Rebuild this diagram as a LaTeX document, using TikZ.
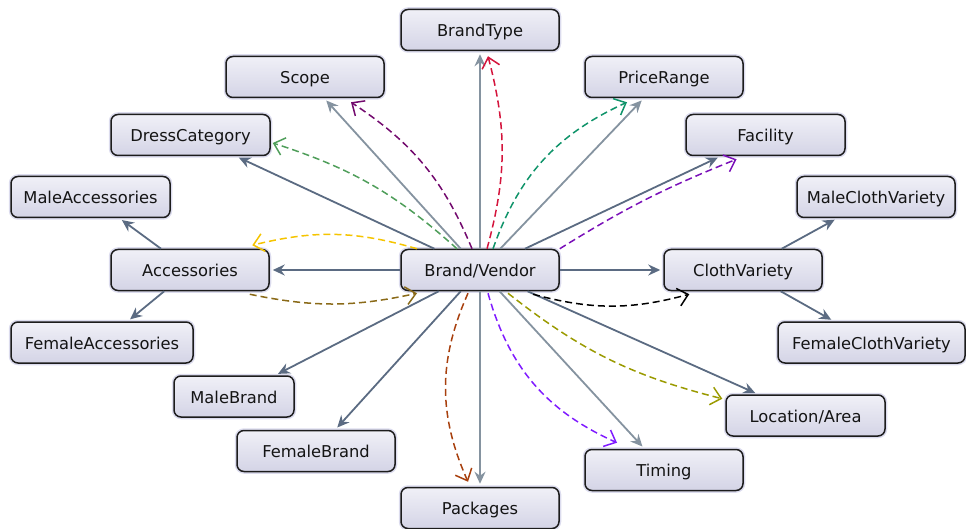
\documentclass[tikz,border=0pt]{standalone}
\usepackage{fontspec}
\setmainfont{DejaVu Sans}
\usetikzlibrary{arrows.meta}

\definecolor{boxline}{HTML}{1C1C1C}
\definecolor{boxtop}{HTML}{F0F0F7}
\definecolor{boxmid}{HTML}{E2E2EE}
\definecolor{boxbot}{HTML}{D4D4E6}
\definecolor{boxhalo}{HTML}{DCDCEE}
\definecolor{linkdark}{HTML}{5B6B82}
\definecolor{linklight}{HTML}{8593A0}
\definecolor{relred}{HTML}{D4143C}
\definecolor{relplum}{HTML}{730A6E}
\definecolor{relsage}{HTML}{4F9E5A}
\definecolor{relteal}{HTML}{10946A}
\definecolor{relviolet}{HTML}{7A10B8}
\definecolor{relgold}{HTML}{F5C400}
\definecolor{relbronze}{HTML}{8A6A18}
\definecolor{relolive}{HTML}{9A9A00}
\definecolor{relblue}{HTML}{7F1AFF}
\definecolor{relrust}{HTML}{A8400E}

\begin{document}
\begin{tikzpicture}[x=1pt,y=-1pt,
  concept/.style={draw=boxline, line width=1.5pt, rounded corners=7pt,
    top color=boxtop, middle color=boxmid, bottom color=boxbot,
    preaction={draw=boxhalo, line width=4.5pt},
    minimum height=41pt, minimum width=158pt, inner sep=0pt,
    text height=13pt, text depth=0pt, text=black!92,
    font=\fontsize{16.3}{18}\selectfont},
  isa/.style={-{Stealth[length=12pt,width=11pt,inset=4pt]}, line width=1.8pt,
    draw=linkdark, shorten >=3pt},
  isalight/.style={isa, draw=linklight},
  rel/.style={-{Straight Barb[length=10pt,width=18pt]}, line width=1.5pt,
    dash pattern=on 7pt off 4pt},
]
\useasboundingbox (0,0) rectangle (966,529);

% concepts
\node[concept] (bt)  at (480,30)     {BrandType};
\node[concept] (sc)  at (305,77)     {Scope};
\node[concept] (pr)  at (664,77)     {PriceRange};
\node[concept, minimum width=159pt] (dc)  at (190.5,135) {DressCategory};
\node[concept, minimum width=159pt] (fa)  at (765.5,135) {Facility};
\node[concept, minimum width=159pt] (ma)  at (90.5,197)  {MaleAccessories};
\node[concept] (mcv) at (876,197)    {MaleClothVariety};
\node[concept] (acc) at (190,270)    {Accessories};
\node[concept] (bv)  at (480,270)    {Brand/Vendor};
\node[concept] (cv)  at (743,270)    {ClothVariety};
\node[concept, minimum width=182pt] (fac) at (102,342.5)  {FemaleAccessories};
\node[concept, minimum width=187pt] (fcv) at (871.5,342.5){FemaleClothVariety};
\node[concept, minimum width=120pt] (mb)  at (234,396.5)  {MaleBrand};
\node[concept, minimum width=159pt] (loc) at (805.5,415.5){Location/Area};
\node[concept] (fb)  at (316,451)    {FemaleBrand};
\node[concept] (tm)  at (664,470)    {Timing};
\node[concept] (pk)  at (480,508)    {Packages};

% subclass links
\draw[isalight] (bv) -- (bt);
\draw[isalight] (bv) -- (sc);
\draw[isa]      (bv) -- (dc);
\draw[isalight] (bv) -- (pr);
\draw[isa]      (bv) -- (fa);
\draw[isa]      (bv) -- (acc);
\draw[isa]      (bv) -- (cv);
\draw[isa]      (bv) -- (mb);
\draw[isa]      (bv) -- (fb);
\draw[isalight] (bv) -- (pk);
\draw[isalight] (bv) -- (tm);
\draw[isa]      (bv) -- (loc);
\draw[isa]      (acc) -- (ma);
\draw[isa]      (acc) -- (fac);
\draw[isa]      (cv) -- (mcv);
\draw[isa]      (cv) -- (fcv);

% object property links
\draw[rel, relred]    ([xshift=7pt]bv.north)  to[bend right=15] ([xshift=8pt,yshift=-5pt]bt.south);
\draw[rel, relplum]   ([xshift=-8pt]bv.north) to[bend right=17] ([xshift=46pt,yshift=-4pt]sc.south);
\draw[rel, relsage]   ([xshift=-23pt]bv.north) to[bend right=12] ([xshift=2pt,yshift=-8pt]dc.east);
\draw[rel, relteal]   ([xshift=13pt]bv.north) to[bend left=23] ([xshift=-37pt,yshift=-4pt]pr.south);
\draw[rel, relviolet] (bv.north east) to[bend left=5] ([xshift=-29pt,yshift=-3pt]fa.south);
\draw[rel, relgold]   ([xshift=-63pt]bv.north) to[bend right=15] ([xshift=-17.5pt,yshift=3.5pt]acc.north east);
\draw[rel, relbronze] ([xshift=-20pt,yshift=-3pt]acc.south east) to[bend right=12] ([xshift=-63pt,yshift=-2pt]bv.south);
\draw[rel, black]     ([xshift=53pt,yshift=-3pt]bv.south) to[bend right=15] ([xshift=26pt,yshift=-3pt]cv.south west);
\draw[rel, relolive]  ([xshift=28pt,yshift=-2pt]bv.south) to[bend right=12] ([xshift=-3pt,yshift=-4.5pt]loc.north west);
\draw[rel, relblue]   ([xshift=8pt,yshift=-2pt]bv.south) to[bend right=25] ([xshift=-47pt,yshift=6pt]tm.north);
\draw[rel, relrust]   ([xshift=-12pt,yshift=-2pt]bv.south) to[bend right=24] ([xshift=-12pt,yshift=5pt]pk.north);
\end{tikzpicture}
\end{document}
